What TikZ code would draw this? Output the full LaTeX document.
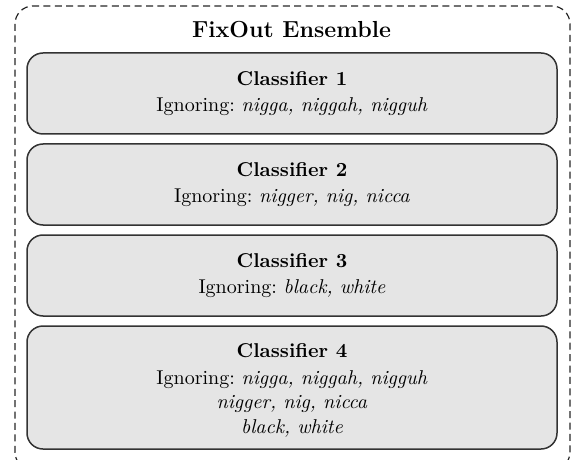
\documentclass[tikz,border=0pt]{standalone}
\begin{document}
\frenchspacing
\begin{tikzpicture}[x=0.5pt,y=-0.5pt,
  outerbox/.style={draw=black!85, dash pattern=on 3.5pt off 2.2pt, line width=0.6pt, rounded corners=9pt, minimum width=555*0.5pt, minimum height=464*0.5pt, inner sep=0pt},
  clsbox/.style={draw=black!80, fill=black!10, line width=0.75pt, rounded corners=8pt, minimum width=530*0.5pt, align=center, inner sep=0pt},
  clstext/.style={align=center, inner sep=0pt},
  every node/.style={font=\fontsize{10}{12.2}\selectfont\frenchspacing}]
\useasboundingbox (0,0) rectangle (576,459);
\node[outerbox] (ens) at (292.5,238) {};
\node[font=\fontsize{11.6}{14}\selectfont\bfseries] (title) at (291.5,30) {FixOut Ensemble};
\node[clsbox, minimum height=81*0.5pt] (c1) at (292,93.5) {\textbf{Classifier 1}\\[1pt]Ignoring: \textit{nigga, niggah, nigguh}};
\node[clsbox, minimum height=81*0.5pt] (c2) at (292,184.5) {\textbf{Classifier 2}\\[1pt]Ignoring: \textit{nigger, nig, nicca}};
\node[clsbox, minimum height=81*0.5pt] (c3) at (292,275.5) {\textbf{Classifier 3}\\[1pt]Ignoring: \textit{black, white}};
\node[clsbox, minimum height=123*0.5pt] (c4) at (292,387.5) {};
\node[clstext] (c4t) at (292,390.5) {\textbf{Classifier 4}\\[1pt]Ignoring: \textit{nigga, niggah, nigguh}\\\textit{nigger, nig, nicca}\\\textit{black, white}};
\end{tikzpicture}
\end{document}
